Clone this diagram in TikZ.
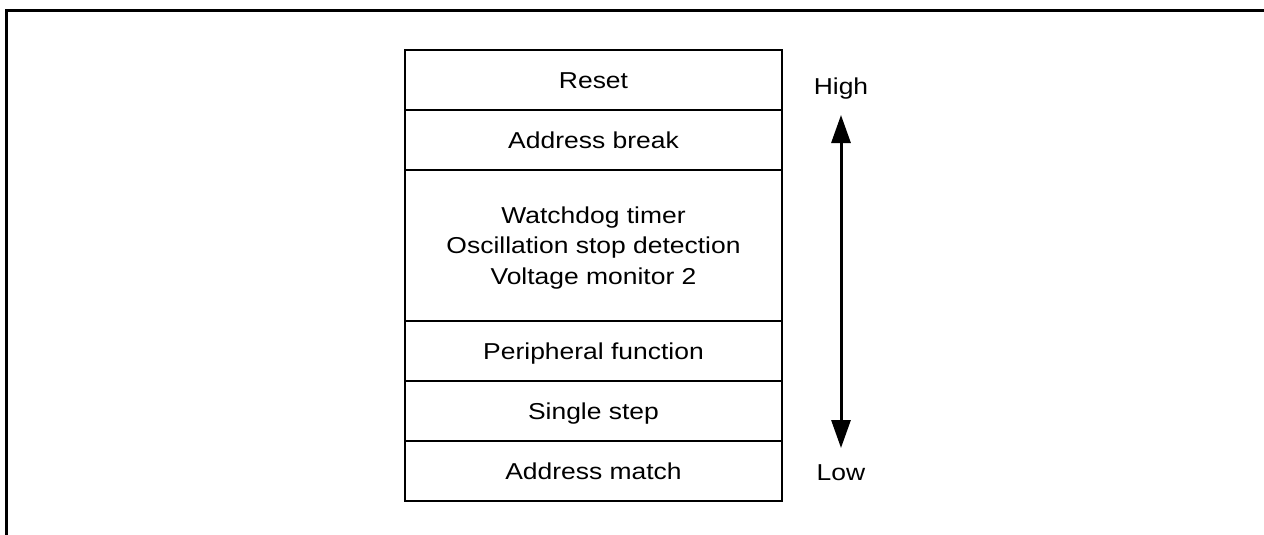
\documentclass[tikz,border=0pt]{standalone}
\usepackage{fontspec}
\setmainfont{Liberation Sans}[FakeStretch=1.15]
\usetikzlibrary{arrows.meta}
\tikzset{
  row/.style={draw, line width=1.6pt, minimum width=377pt, inner sep=0pt,
    text height=16.5pt, text depth=0pt, font=\fontsize{23}{30.5}\selectfont},
  lvl/.style={anchor=base, inner sep=0pt, font=\fontsize{23}{30.5}\selectfont},
  prio/.style={line width=3pt, {Triangle[length=28pt,width=19pt]}-{Triangle[length=28pt,width=19pt]}},
  frame/.style={line width=3pt}
}
\begin{document}
\begin{tikzpicture}[x=1pt,y=-1pt]
\useasboundingbox (0,0) rectangle (1264,535);
\draw[frame] (6.5,535) -- (6.5,10.5) -- (1264,10.5);
\node[row, minimum height=60pt] (r1) at (593.5,80) {Reset};
\node[row, minimum height=60pt] (r2) at (593.5,140) {Address break};
\node[row, minimum height=151pt, align=center, text height=77.5pt, text depth=0pt] (r3) at (593.5,245.5)
  {Watchdog timer\\Oscillation stop detection\\Voltage monitor 2};
\node[row, minimum height=60pt] (r4) at (593.5,351) {Peripheral function};
\node[row, minimum height=60pt] (r5) at (593.5,411) {Single step};
\node[row, minimum height=60pt] (r6) at (593.5,471) {Address match};
\node[lvl] (high) at (841,94) {High};
\node[lvl] (low) at (841,480) {Low};
\coordinate (atop) at (841,115);
\coordinate (abot) at (841,448);
\draw[prio] (atop) -- (abot);
\end{tikzpicture}
\end{document}
